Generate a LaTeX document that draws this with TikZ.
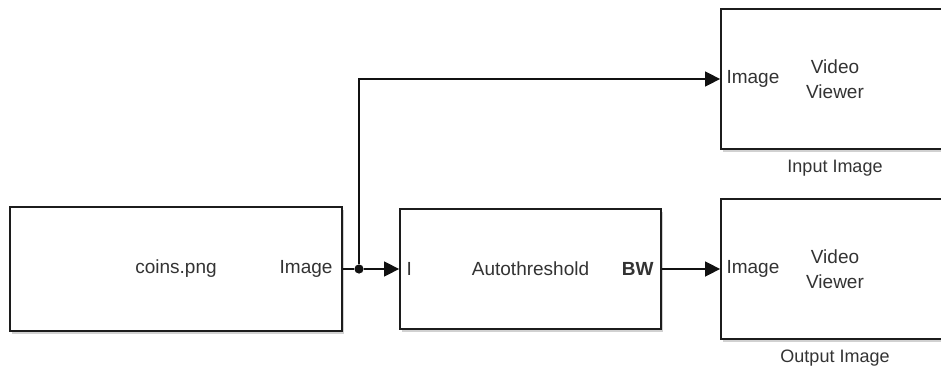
\documentclass[tikz,border=0pt]{standalone}
\usepackage{fontspec}
\setmainfont{Liberation Sans}
\usetikzlibrary{arrows.meta, positioning, shadows}
\definecolor{blockline}{HTML}{1C1C1C}
\definecolor{wiregray}{HTML}{111111}
\definecolor{textgray}{HTML}{333333}
\definecolor{shadowgray}{HTML}{8C8C8C}

\begin{document}
\begin{tikzpicture}[
    x=0.5pt, y=-0.5pt,
    every node/.style={font=\fontsize{9.5}{12.5}\selectfont, text=textgray},
    block/.style 2 args={
        draw=blockline, fill=white,
        line width=0.9pt,
        minimum width=#1, minimum height=#2,
        inner sep=0pt, align=center,
        drop shadow={shadow xshift=1.2pt, shadow yshift=-1.6pt,
                     opacity=0.4, fill=shadowgray}
    },
    port/.style={inner sep=0pt},
    caption/.style={inner sep=0pt, font=\fontsize{9}{11}\selectfont},
    dot/.style={circle, fill=wiregray, minimum size=4.6pt, inner sep=0pt},
    wire/.style={line width=0.75pt, color=wiregray},
    arr/.style={
        -{Triangle[length=7.5pt, width=7.5pt]},
        line width=0.75pt,
        color=wiregray
    }
]
\useasboundingbox (0,0) rectangle (941,369);
\clip (0,0) rectangle (941,369);

% Blocks
\node[block={166pt}{62pt}] (coins) at (176,269) {coins.png};
\node[block={130.5pt}{60pt}] (thresh) at (530.5,269) {Autothreshold};
\node[block={114pt}{70pt}] (inview) at (835,79) {Video\\Viewer};
\node[block={114pt}{70pt}] (outview) at (835,269) {Video\\Viewer};

% Port labels
\node[port, anchor=east] (coinsout) at ([xshift=-5pt]coins.east) {Image};
\node[port, anchor=west] (threshin) at ([xshift=3.5pt]thresh.west) {I};
\node[port, anchor=east, font=\fontsize{9.5}{12.5}\selectfont\bfseries] (threshout)
    at ([xshift=-4pt]thresh.east) {BW};
\node[port, anchor=west] (inviewin) at ([xshift=3pt]inview.west) {Image};
\node[port, anchor=west] (outviewin) at ([xshift=3pt]outview.west) {Image};

% Block names
\node[caption, below=5pt of inview] (inname) {Input Image};
\node[caption, below=5pt of outview] (outname) {Output Image};

% Signals
\node[dot] (split) at (359,269) {};
\draw[wire] (coins.east) -- (split);
\draw[arr] (split) -- (thresh.west);
\draw[arr] (split) |- (inview.west);
\draw[arr] (thresh.east) -- (outview.west);

\end{tikzpicture}
\end{document}
